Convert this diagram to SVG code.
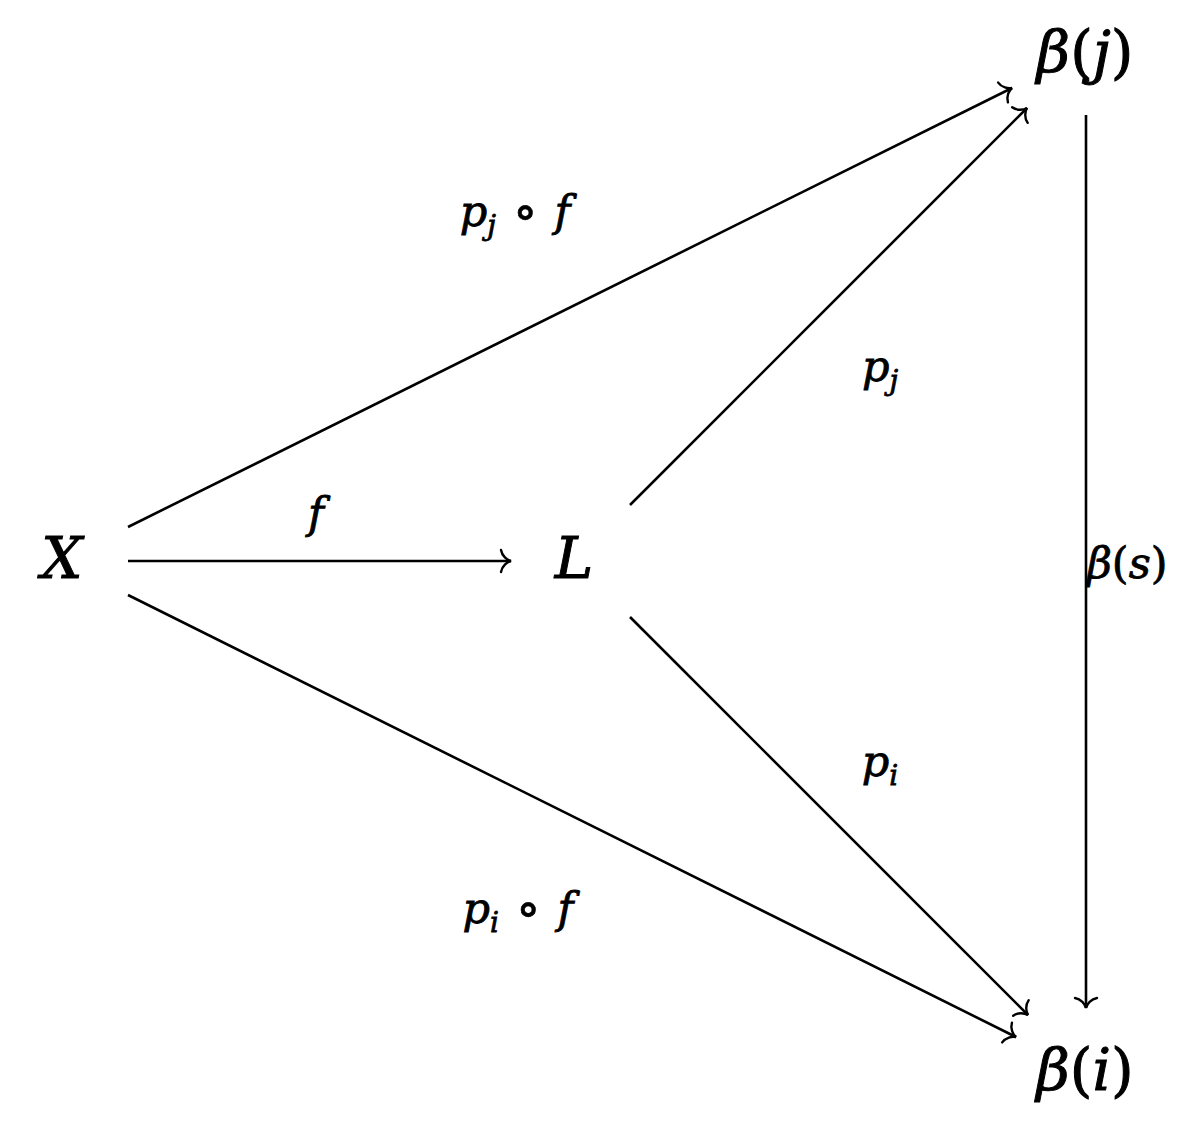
<svg xmlns="http://www.w3.org/2000/svg" width="1204" height="1140" viewBox="0 0 1204 1140">
<style>
  .node { font-family: "DejaVu Serif", "Liberation Serif", serif; font-style: italic; font-size: 58px; fill: #000; stroke: #000; stroke-width: 1; }
  .lbl { font-family: "DejaVu Serif", "Liberation Serif", serif; font-style: italic; font-size: 43px; fill: #000; stroke: #000; stroke-width: 0.8; }
  .up { font-style: normal; }
  .op { font-style: normal; font-size: 52px; stroke-width: 0.6; }
  .sub { font-size: 28px; }
  .edge { stroke: #000; stroke-width: 2.6; fill: none; }
</style>
<defs>
  <marker id="to" markerUnits="userSpaceOnUse" markerWidth="30" markerHeight="30" viewBox="-15 -15 30 30" refX="0" refY="0" orient="auto">
    <path d="M -10,-11 C -9,-5 -4,-1 0,0 C -4,1 -9,5 -10,11" fill="none" stroke="#000" stroke-width="2.4" stroke-linecap="round"/>
  </marker>
</defs>
<rect width="1204" height="1140" fill="#fff"/>
<g id="edges">
  <line class="edge" x1="128" y1="561" x2="511" y2="561" marker-end="url(#to)"/>
  <line class="edge" x1="128" y1="527" x2="1012" y2="88" marker-end="url(#to)"/>
  <line class="edge" x1="630" y1="505" x2="1027" y2="108" marker-end="url(#to)"/>
  <line class="edge" x1="1086" y1="115" x2="1086" y2="1008" marker-end="url(#to)"/>
  <line class="edge" x1="630" y1="617" x2="1028" y2="1015" marker-end="url(#to)"/>
  <line class="edge" x1="128" y1="595" x2="1016" y2="1037" marker-end="url(#to)"/>
</g>
<g id="edge-labels">
  <text class="lbl" x="316" y="528" text-anchor="middle">f</text>
  <text class="lbl" x="515" y="226" text-anchor="middle">p<tspan class="sub" dy="9">j</tspan><tspan class="op" dy="-6"> ∘ </tspan><tspan dy="-3">f</tspan></text>
  <text class="lbl" x="880" y="381" text-anchor="middle">p<tspan class="sub" dy="9">j</tspan></text>
  <text class="lbl" x="880" y="776" text-anchor="middle">p<tspan class="sub" dy="9">i</tspan></text>
  <text class="lbl" x="518" y="923" text-anchor="middle">p<tspan class="sub" dy="9">i</tspan><tspan class="op" dy="-6"> ∘ </tspan><tspan dy="-3">f</tspan></text>
  <text class="lbl" x="1087" y="578">β<tspan class="up">(</tspan>s<tspan class="up">)</tspan></text>
</g>
<g id="node-X"><text class="node" x="62" y="578" text-anchor="middle">X</text></g>
<g id="node-L"><text class="node" x="574" y="578" text-anchor="middle">L</text></g>
<g id="node-bj"><text class="node" x="1085" y="72" text-anchor="middle">β<tspan class="up">(</tspan>j<tspan class="up">)</tspan></text></g>
<g id="node-bi"><text class="node" x="1085" y="1090" text-anchor="middle">β<tspan class="up">(</tspan>i<tspan class="up">)</tspan></text></g>
</svg>
